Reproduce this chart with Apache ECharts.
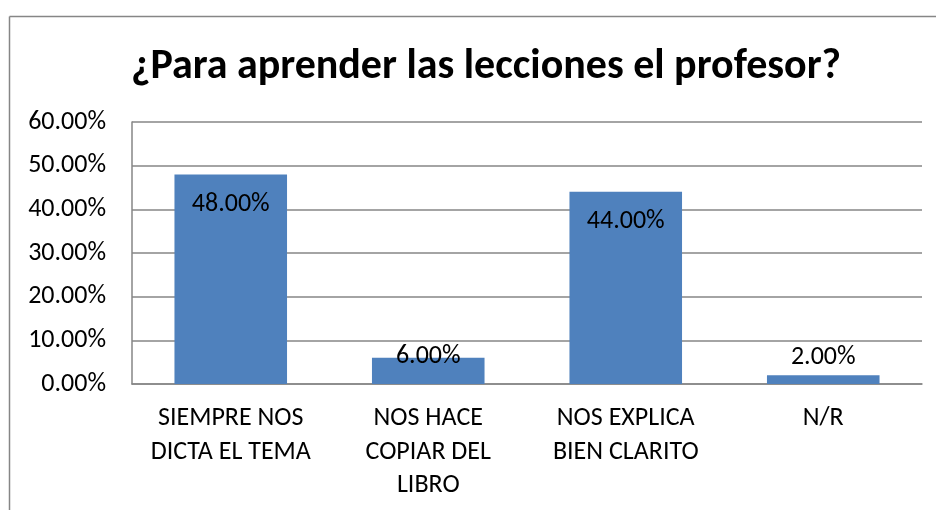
<!DOCTYPE html>
<html>
<head>
<meta charset="utf-8">
<script src="https://cdn.jsdelivr.net/npm/echarts@6/dist/echarts.min.js"></script>
<style>
html,body{margin:0;padding:0;background:#fff;overflow:hidden;}
#chart{width:936px;height:510px;}
</style>
</head>
<body>
<div id="chart"></div>
<script>
var titleText = '¿Para aprender las lecciones el profesor?';
var categories = ['SIEMPRE NOS\nDICTA EL TEMA', 'NOS HACE\nCOPIAR DEL\nLIBRO', 'NOS EXPLICA\nBIEN CLARITO', 'N/R'];
var values = [0.48, 0.06, 0.44, 0.02];
var yTicks = [0, 0.1, 0.2, 0.3, 0.4, 0.5, 0.6];

var FONT = "Carlito, 'Liberation Sans', Arial, sans-serif";
var LBL = 26;
var GRAY = '#868686';

function pct(v){ return (v*100).toFixed(2) + '%'; }

// label placement per bar (style only)
var labelStyles = [
  {position:'insideTop', distance:17},
  {position:'top', distance:-12},
  {position:'insideTop', distance:17},
  {position:'top', distance:5}
];

var chart = echarts.init(document.getElementById('chart'), null, {renderer:'canvas'});
chart.setOption({
  animation:false,
  backgroundColor:'#ffffff',
  title:{
    text:titleText,
    left:481, top:41, textAlign:'center',
    textStyle:{fontFamily:FONT, fontWeight:'bold', fontSize:42, color:'#000'}
  },
  graphic:[
    {type:'line', silent:true, z:-1,
     shape:{x1:9.5, y1:16.5, x2:936, y2:16.5},
     style:{stroke:GRAY, lineWidth:1.5}},
    {type:'line', silent:true, z:-1,
     shape:{x1:9.5, y1:16.5, x2:9.5, y2:510},
     style:{stroke:GRAY, lineWidth:1.5}}
  ],
  grid:{left:132, right:14, top:122, bottom:126, containLabel:false},
  xAxis:{
    type:'category',
    data:categories,
    axisLine:{show:true, lineStyle:{color:GRAY, width:1.5}},
    axisTick:{show:false},
    axisLabel:{fontFamily:FONT, fontSize:LBL, color:'#000', lineHeight:33.5, margin:18, interval:0}
  },
  yAxis:{
    type:'value', min:0, max:0.6, interval:0.1,
    axisLine:{show:true, lineStyle:{color:GRAY, width:1.5}},
    axisTick:{show:false},
    splitLine:{show:true, lineStyle:{color:GRAY, width:1.5}},
    axisLabel:{fontFamily:FONT, fontSize:LBL, color:'#000', margin:26, formatter:function(v){return pct(v);}}
  },
  series:[{
    type:'bar',
    barWidth:'57%',
    itemStyle:{color:'#4F81BD'},
    data:values.map(function(v,i){
      return {value:v, label:{show:true, position:labelStyles[i].position, distance:labelStyles[i].distance,
        formatter:function(p){return pct(p.value);}, fontFamily:FONT, fontSize:LBL, color:'#000'}};
    })
  }]
});
</script>
</body>
</html>
